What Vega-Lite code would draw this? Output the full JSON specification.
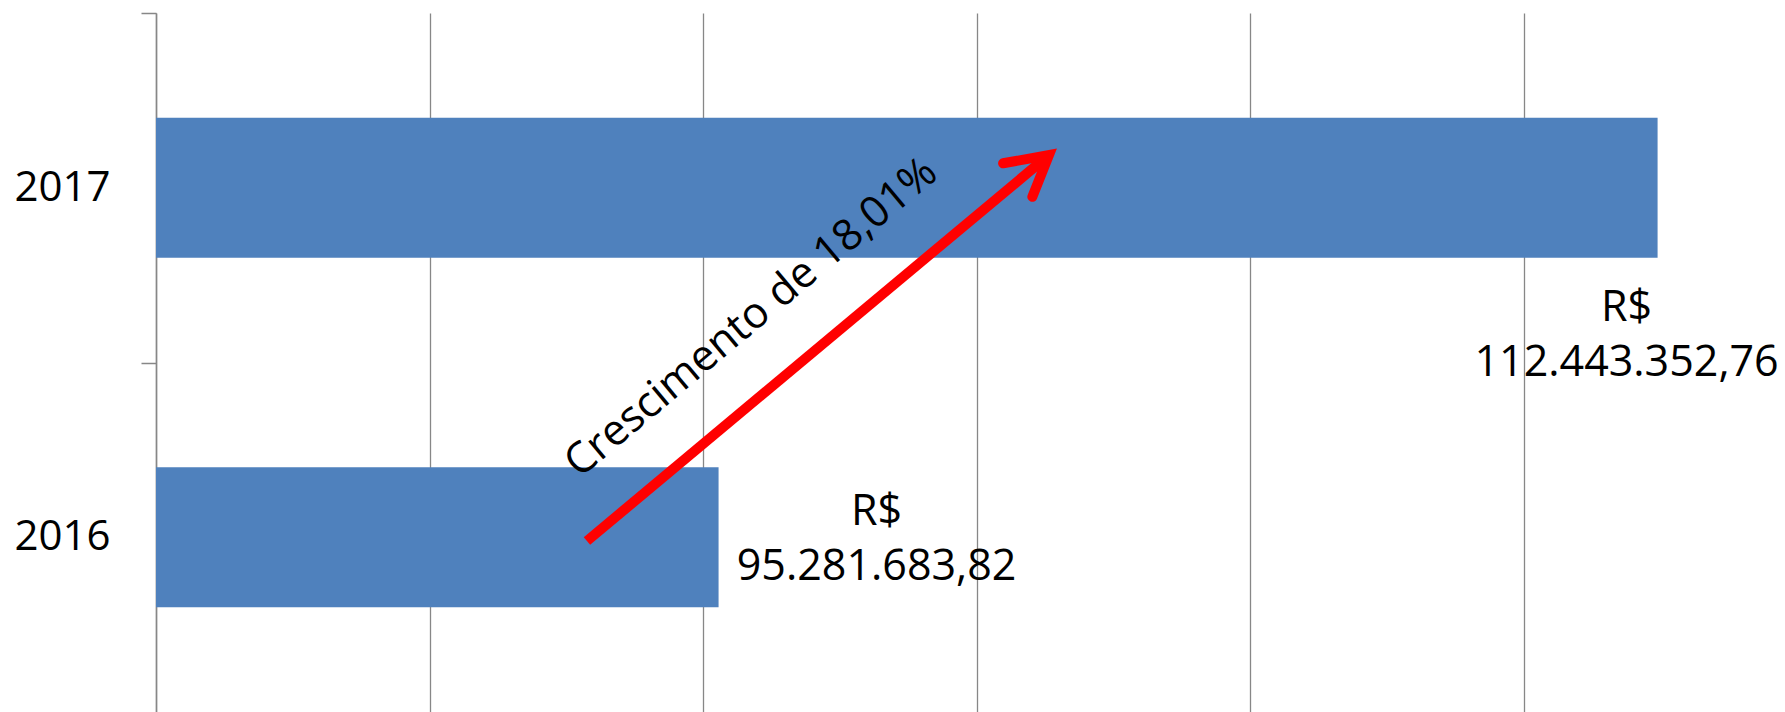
{
  "$schema": "https://vega.github.io/schema/vega-lite/v6.json",
  "width": 1629,
  "height": 699,
  "autosize": {"type": "none"},
  "padding": {"left": 156, "top": 13, "right": 0, "bottom": 0},
  "background": "white",
  "config": {
    "view": {"stroke": null},
    "font": "Open Sans",
    "text": {"font": "Open Sans", "fontSize": 43, "color": "black"}
  },
  "datasets": {
    "bars": [
      {"year": "2016", "value": 95281683.82, "base": 85000000, "label": "R$\n95.281.683,82"},
      {"year": "2017", "value": 112443352.76, "base": 85000000, "label": "R$\n112.443.352,76"}
    ],
    "shaft": [
      {"ax": 92876000, "ay": 0.4893, "o": 1},
      {"ax": 101301000, "ay": 1.591, "o": 2}
    ],
    "head": [
      {"ax": 100482000, "ay": 1.570, "o": 1},
      {"ax": 101320000, "ay": 1.5937, "o": 2},
      {"ax": 101016000, "ay": 1.474, "o": 3}
    ],
    "note": [
      {"ax": 95880000, "ay": 1.128, "text": "Crescimento de 18,01%"}
    ]
  },
  "resolve": {"scale": {"y": "independent"}, "axis": {"y": "independent"}},
  "layer": [
    {
      "data": {"name": "bars"},
      "encoding": {
        "y": {
          "field": "year",
          "type": "nominal",
          "sort": "descending",
          "scale": {"paddingInner": 0.6, "paddingOuter": 0.3},
          "axis": {
            "orient": "left",
            "title": null,
            "domain": false,
            "ticks": false,
            "tickSize": 0,
            "labelPadding": 46,
            "labelFont": "Open Sans",
            "labelFontSize": 42,
            "labelColor": "black",
            "labelBaseline": "middle"
          }
        },
        "x": {
          "field": "value",
          "type": "quantitative",
          "scale": {"domain": [85000000, 114772000], "nice": false, "zero": false},
          "axis": {
            "title": null,
            "values": [85000000, 90000000, 95000000, 100000000, 105000000, 110000000],
            "grid": true,
            "gridColor": "#878787",
            "gridWidth": 1.3,
            "labels": false,
            "ticks": false,
            "domain": false
          }
        }
      },
      "layer": [
        {"mark": {"type": "bar", "color": "#4F81BD"}, "encoding": {"x2": {"field": "base"}}},
        {
          "transform": [{"filter": "datum.year == '2016'"}],
          "mark": {"type": "text", "align": "center", "baseline": "middle", "lineBreak": "\n", "lineHeight": 55, "dx": 158, "dy": -25},
          "encoding": {"text": {"field": "label"}}
        },
        {
          "transform": [{"filter": "datum.year == '2017'"}],
          "mark": {"type": "text", "align": "center", "baseline": "middle", "lineBreak": "\n", "lineHeight": 55, "dx": -31, "dy": 120},
          "encoding": {"text": {"field": "label"}}
        }
      ]
    },
    {
      "encoding": {
        "y": {
          "field": "ay",
          "type": "quantitative",
          "scale": {"domain": [0, 2], "nice": false, "zero": false},
          "axis": {
            "orient": "left",
            "title": null,
            "values": [1, 2],
            "labels": false,
            "grid": false,
            "ticks": true,
            "tickSize": 15,
            "tickColor": "#878787",
            "tickWidth": 1.5,
            "domain": true,
            "domainColor": "#878787",
            "domainWidth": 1.5
          }
        },
        "x": {
          "field": "ax",
          "type": "quantitative",
          "scale": {"domain": [85000000, 114772000], "nice": false, "zero": false},
          "axis": {
            "title": null,
            "values": [85000000, 90000000, 95000000, 100000000, 105000000, 110000000],
            "grid": true,
            "gridColor": "#878787",
            "gridWidth": 1.3,
            "labels": false,
            "ticks": false,
            "domain": false
          }
        }
      },
      "layer": [
        {
          "data": {"name": "shaft"},
          "mark": {"type": "line", "color": "#FF0000", "strokeWidth": 10, "strokeCap": "butt"},
          "encoding": {"order": {"field": "o"}}
        },
        {
          "data": {"name": "head"},
          "mark": {"type": "line", "color": "#FF0000", "strokeWidth": 10, "strokeCap": "round", "strokeJoin": "miter"},
          "encoding": {"order": {"field": "o"}}
        },
        {
          "data": {"name": "note"},
          "mark": {"type": "text", "align": "center", "baseline": "middle", "angle": -40, "fontSize": 43},
          "encoding": {"text": {"field": "text"}}
        }
      ]
    }
  ]
}
